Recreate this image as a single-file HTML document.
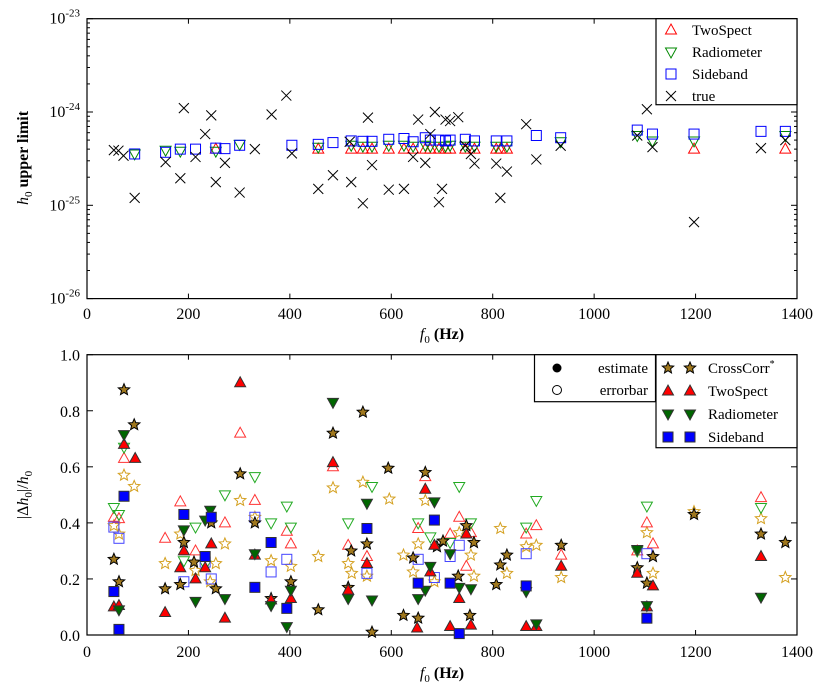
<!DOCTYPE html>
<html><head><meta charset="utf-8"><style>
html,body{margin:0;padding:0;background:#fff;}
svg{display:block;font-family:"Liberation Serif",serif;}
</style></head><body>
<svg id="chart" width="830" height="692" xmlns="http://www.w3.org/2000/svg"></svg>
<script>
// ---------- TOP PANEL DATA ----------
const trueFreq = [53,62,72,94,155,184,191,214,233,245,254,272,301,331,364,393,404,456,485,518,521,544,554,562,595,625,643,653,667,677,686,694,700,707,716,732,746,757,764,807,815,828,866,886,934,1085,1104,1115,1197,1329,1377];
const trueH0 = [3.9e-25,3.85e-25,3.4e-25,1.2e-25,2.9e-25,1.95e-25,1.1e-24,3.3e-25,5.8e-25,9.2e-25,1.77e-25,2.85e-25,1.37e-25,4.0e-25,9.4e-25,1.5e-24,3.6e-25,1.5e-25,2.1e-25,4.8e-25,1.77e-25,1.05e-25,8.7e-25,2.7e-25,1.47e-25,1.5e-25,3.3e-25,8.3e-25,2.85e-25,5.8e-25,1.0e-24,1.08e-25,1.5e-25,8.3e-25,8.0e-25,8.8e-25,4.35e-25,3.55e-25,2.8e-25,2.8e-25,1.2e-25,2.3e-25,7.4e-25,3.1e-25,4.35e-25,5.6e-25,1.07e-24,4.2e-25,6.6e-26,4.1e-25,5.0e-25];
const sbFreq = [94,155,184,214,254,272,301,404,456,485,521,544,562,595,625,643,667,677,694,707,716,746,764,807,828,886,934,1085,1115,1197,1329,1377];
const sbUL = [3.55e-25,3.7e-25,4.0e-25,4.0e-25,4.1e-25,4.05e-25,4.4e-25,4.4e-25,4.5e-25,4.7e-25,4.9e-25,4.85e-25,4.85e-25,5.1e-25,5.2e-25,4.8e-25,5.3e-25,5.0e-25,5.0e-25,4.9e-25,5.0e-25,5.1e-25,4.9e-25,4.9e-25,4.9e-25,5.6e-25,5.3e-25,6.4e-25,5.8e-25,5.8e-25,6.2e-25,6.2e-25];
const rmFreq = [94,155,184,254,301,456,521,544,562,595,625,643,667,677,694,707,716,746,764,807,828,934,1085,1115,1197,1377];
const rmUL = [3.55e-25,3.9e-25,3.8e-25,3.8e-25,4.5e-25,4.2e-25,4.4e-25,4.3e-25,4.3e-25,4.4e-25,4.4e-25,4.3e-25,4.4e-25,4.3e-25,4.3e-25,4.3e-25,4.4e-25,4.3e-25,4.3e-25,4.3e-25,4.3e-25,4.8e-25,5.6e-25,4.9e-25,4.9e-25,5.6e-25];
const tsFreq = [254,456,521,544,562,595,625,643,667,677,694,707,716,746,764,807,815,828,1197,1377];
const tsUL = [4.0e-25,4.0e-25,4.0e-25,4.0e-25,4.0e-25,4.0e-25,4.0e-25,4.0e-25,4.0e-25,4.0e-25,4.0e-25,4.0e-25,4.0e-25,4.0e-25,4.0e-25,4.0e-25,4.0e-25,4.0e-25,4.0e-25,4.0e-25];

// ---------- BOTTOM PANEL DATA ----------
const ccEstF = [53,63,73,93,154,184,191,211,245,254,302,331,363,402,456,485,515,521,544,552,562,594,624,643,653,667,690,702,732,748,755,763,807,815,828,935,1085,1104,1116,1197,1329,1377];
const ccEstV = [0.27,0.19,0.875,0.75,0.165,0.18,0.33,0.26,0.40,0.165,0.575,0.40,0.13,0.19,0.09,0.72,0.17,0.30,0.795,0.325,0.01,0.595,0.07,0.275,0.06,0.58,0.315,0.335,0.21,0.39,0.07,0.33,0.18,0.25,0.285,0.32,0.24,0.185,0.28,0.43,0.36,0.33];
const ccErrF = [53,63,73,93,154,184,214,243,254,272,302,331,363,402,456,485,515,522,544,552,596,624,643,653,667,685,734,757,763,815,828,866,886,935,1104,1116,1197,1329,1377];
const ccErrV = [0.39,0.36,0.57,0.53,0.255,0.36,0.23,0.19,0.255,0.325,0.48,0.42,0.265,0.245,0.28,0.525,0.255,0.22,0.545,0.21,0.485,0.285,0.225,0.325,0.48,0.19,0.365,0.285,0.21,0.38,0.22,0.315,0.32,0.205,0.365,0.22,0.44,0.415,0.205];
const tsEstF = [53,63,73,95,154,184,191,214,233,245,272,302,331,363,402,485,515,552,651,667,677,685,716,734,748,757,866,886,935,1085,1104,1116,1329];
const tsEstV = [0.10,0.105,0.68,0.63,0.08,0.24,0.30,0.20,0.24,0.325,0.06,0.90,0.285,0.125,0.13,0.615,0.16,0.255,0.025,0.52,0.225,0.32,0.03,0.13,0.36,0.035,0.03,0.03,0.245,0.22,0.10,0.175,0.28];
const tsErrF = [53,63,73,154,184,214,272,302,331,394,402,485,515,552,653,667,716,734,748,757,866,886,935,1085,1104,1116,1329];
const tsErrV = [0.42,0.415,0.63,0.345,0.475,0.30,0.40,0.72,0.48,0.37,0.325,0.60,0.32,0.28,0.38,0.565,0.36,0.42,0.245,0.365,0.36,0.39,0.285,0.30,0.40,0.325,0.49];
const rmEstF = [63,73,191,214,233,243,272,331,363,394,402,485,515,552,562,653,667,677,685,716,734,757,866,886,1085,1104,1329];
const rmEstV = [0.09,0.715,0.375,0.12,0.41,0.445,0.13,0.29,0.105,0.03,0.16,0.83,0.13,0.47,0.125,0.13,0.16,0.245,0.475,0.29,0.17,0.165,0.155,0.04,0.305,0.105,0.135];
const rmErrF = [53,63,73,191,214,233,272,331,363,394,402,515,562,653,677,716,734,757,866,886,1085,1104,1329];
const rmErrV = [0.455,0.43,0.67,0.265,0.385,0.25,0.50,0.565,0.40,0.46,0.385,0.40,0.53,0.40,0.35,0.33,0.53,0.40,0.385,0.48,0.30,0.46,0.455];
const sbEstF = [53,63,73,191,233,245,331,363,394,552,653,685,716,734,866,1104];
const sbEstV = [0.155,0.02,0.495,0.43,0.28,0.42,0.17,0.33,0.095,0.38,0.185,0.41,0.185,0.005,0.175,0.06];
const sbErrF = [53,63,191,233,245,331,363,394,552,653,685,716,734,866,1104];
const sbErrV = [0.385,0.345,0.19,0.26,0.20,0.42,0.225,0.27,0.22,0.27,0.205,0.28,0.32,0.29,0.29];

const xTicks = [0,200,400,600,800,1000,1200,1400];
const topYTicks = [-23,-24,-25,-26];
const botYTicks = [0.0,0.2,0.4,0.6,0.8,1.0];

const svg = document.getElementById('chart');
const NS = 'http://www.w3.org/2000/svg';
function mk(tag, attrs, parent){const e=document.createElementNS(NS,tag);for(const k in attrs)e.setAttribute(k,attrs[k]);(parent||svg).appendChild(e);return e;}

const AX = {l:87, r:797};
const TOP = {t:18.7, b:298.6};
const BOT = {t:354.7, b:635};
const xs = f => AX.l + (f/1400)*(AX.r-AX.l);
const ysTop = h => TOP.t + (-23 - Math.log10(h)) * (TOP.b-TOP.t)/3;
const ysBot = v => BOT.b - v*(BOT.b-BOT.t);

// markers
function tri(g,x,y,s,up,fill,stroke){const h=s*0.9;const p=up?`${x},${y-h*0.6} ${x-s/2},${y+h*0.4} ${x+s/2},${y+h*0.4}`:`${x},${y+h*0.6} ${x-s/2},${y-h*0.4} ${x+s/2},${y-h*0.4}`;return mk('polygon',{points:p,fill:fill,stroke:stroke,'stroke-width':1},g);}
function sq(g,x,y,s,fill,stroke){return mk('rect',{x:x-s/2,y:y-s/2,width:s,height:s,fill:fill,stroke:stroke,'stroke-width':1},g);}
function star(g,x,y,r,fill,stroke){let p=[];for(let i=0;i<10;i++){const a=-Math.PI/2+i*Math.PI/5;const rr=i%2?r*0.45:r;p.push((x+rr*Math.cos(a)).toFixed(1)+','+(y+rr*Math.sin(a)).toFixed(1));}return mk('polygon',{points:p.join(' '),fill:fill,stroke:stroke,'stroke-width':1},g);}
function cross(g,x,y,s){const h=s/2;mk('path',{d:`M${x-h},${y-h}L${x+h},${y+h}M${x-h},${y+h}L${x+h},${y-h}`,stroke:'#000','stroke-width':1,fill:'none'},g);}

function axesFrame(t,b,name){
  const r=mk('rect',{x:AX.l,y:t,width:AX.r-AX.l,height:b-t,fill:'none',stroke:'#000','stroke-width':1.2});
  
  
}
function xAxis(t,b,labelY,name){
  const g=mk('g',{});
  
  
  xTicks.forEach(v=>{const x=xs(v);
    mk('line',{x1:x,y1:b,x2:x,y2:b-5,stroke:'#000'},g);
    mk('line',{x1:x,y1:t,x2:x,y2:t+5,stroke:'#000'},g);
    const tx=mk('text',{x:x,y:labelY,'font-size':16,'text-anchor':'middle'},g);tx.textContent=v;});
}

// ===== TOP PANEL =====
const gTop=mk('g',{});


xAxis(TOP.t,TOP.b,319,'top-x-axis');
const gty=mk('g',{});


topYTicks.forEach(e=>{const y=ysTop(Math.pow(10,e));
  mk('line',{x1:AX.l,y1:y,x2:AX.l+6,y2:y,stroke:'#000'},gty);
  mk('line',{x1:AX.r,y1:y,x2:AX.r-6,y2:y,stroke:'#000'},gty);
  const t=mk('text',{x:80,y:y+5,'font-size':16,'text-anchor':'end'},gty);
  t.innerHTML=`10<tspan dy="-7" font-size="11">${e}</tspan>`;
  if(e>-26){for(let m=2;m<10;m++){const yy=ysTop(m*Math.pow(10,e-1));
    mk('line',{x1:AX.l,y1:yy,x2:AX.l+3,y2:yy,stroke:'#000'},gty);
    mk('line',{x1:AX.r,y1:yy,x2:AX.r-3,y2:yy,stroke:'#000'},gty);}}
});
axesFrame(TOP.t,TOP.b,'top-plot-frame');
const gts=mk('g',{},gTop);
tsFreq.forEach((f,i)=>tri(gts,xs(f),ysTop(tsUL[i]),11,true,'none','#f00'));
const grm=mk('g',{},gTop);
rmFreq.forEach((f,i)=>tri(grm,xs(f),ysTop(rmUL[i]),11,false,'none','#080'));
const gsb=mk('g',{},gTop);
sbFreq.forEach((f,i)=>sq(gsb,xs(f),ysTop(sbUL[i]),10,'none','#00f'));
const gtr=mk('g',{},gTop);
trueFreq.forEach((f,i)=>cross(gtr,xs(f),ysTop(trueH0[i]),10));

// top legend
const lg=mk('g',{});


mk('rect',{x:656,y:18.7,width:141,height:86,fill:'#fff',stroke:'#000','stroke-width':1.2},lg);
const ly=[30,52,74,96];
tri(lg,671,ly[0],11,true,'none','#f00');tri(lg,671,ly[1],11,false,'none','#080');sq(lg,671,ly[2],10,'none','#00f');cross(lg,671,ly[3],10);
['TwoSpect','Radiometer','Sideband','true'].forEach((s,i)=>{const t=mk('text',{x:692,y:ly[i]+5,'font-size':15},lg);t.textContent=s;});

// top labels
const tyl=mk('text',{x:0,y:0,'font-size':16,transform:'translate(28,158) rotate(-90)','text-anchor':'middle'});

tyl.innerHTML='<tspan font-style="italic">h</tspan><tspan font-size="11" dy="4">0</tspan><tspan dy="-4" font-weight="bold"> upper limit</tspan>';
const txl=mk('text',{x:442,y:339,'font-size':16,'text-anchor':'middle'});

txl.innerHTML='<tspan font-style="italic">f</tspan><tspan font-size="11" dy="4">0</tspan><tspan dy="-4" font-weight="bold"> (Hz)</tspan>';

// ===== BOTTOM PANEL =====
xAxis(BOT.t,BOT.b,657,'bottom-x-axis');
const gby=mk('g',{});


botYTicks.forEach(v=>{const y=ysBot(v);
  mk('line',{x1:AX.l,y1:y,x2:AX.l+6,y2:y,stroke:'#000'},gby);
  mk('line',{x1:AX.r,y1:y,x2:AX.r-6,y2:y,stroke:'#000'},gby);
  const t=mk('text',{x:80,y:y+6,'font-size':16,'text-anchor':'end'},gby);t.textContent=v.toFixed(1);});
axesFrame(BOT.t,BOT.b,'bottom-plot-frame');
const gold='#b8860b', gfill='#a0781e';
function series(name,F,V,draw){const g=mk('g',{});F.forEach((f,i)=>draw(g,xs(f),ysBot(V[i])));}
series('crosscorr-errorbar',ccErrF,ccErrV,(g,x,y)=>star(g,x,y,6,'none','#d4a020'));
series('twospect-errorbar',tsErrF,tsErrV,(g,x,y)=>tri(g,x,y,11,true,'none','#f33'));
series('radiometer-errorbar',rmErrF,rmErrV,(g,x,y)=>tri(g,x,y,11,false,'none','#2a2'));
series('sideband-errorbar',sbErrF,sbErrV,(g,x,y)=>sq(g,x,y,10,'none','#44f'));
series('crosscorr-estimate',ccEstF,ccEstV,(g,x,y)=>star(g,x,y,6,gfill,'#000'));
series('twospect-estimate',tsEstF,tsEstV,(g,x,y)=>tri(g,x,y,11,true,'#f00','#333'));
series('radiometer-estimate',rmEstF,rmEstV,(g,x,y)=>tri(g,x,y,11,false,'#060','#333'));
series('sideband-estimate',sbEstF,sbEstV,(g,x,y)=>sq(g,x,y,10,'#00f','#333'));

// bottom legends
const l1=mk('g',{});


mk('rect',{x:534.5,y:354.7,width:121,height:47,fill:'#fff',stroke:'#000','stroke-width':1.2},l1);
mk('circle',{cx:557,cy:368,r:4.5,fill:'#000'},l1);
mk('circle',{cx:557,cy:390,r:4.5,fill:'none',stroke:'#000'},l1);
let t1=mk('text',{x:648,y:373,'font-size':15,'text-anchor':'end'},l1);t1.textContent='estimate';
let t2=mk('text',{x:648,y:395,'font-size':15,'text-anchor':'end'},l1);t2.textContent='errorbar';
const l2=mk('g',{});


mk('rect',{x:656,y:354.7,width:141,height:93,fill:'#fff',stroke:'#000','stroke-width':1.2},l2);
const ry=[368,391,414,437];
star(l2,668,ry[0],6,gfill,'#000');star(l2,690,ry[0],6,gfill,'#000');
tri(l2,668,ry[1],11,true,'#f00','#333');tri(l2,690,ry[1],11,true,'#f00','#333');
tri(l2,668,ry[2],11,false,'#060','#333');tri(l2,690,ry[2],11,false,'#060','#333');
sq(l2,668,ry[3],10,'#00f','#333');sq(l2,690,ry[3],10,'#00f','#333');
const names=['CrossCorr','TwoSpect','Radiometer','Sideband'];
names.forEach((s,i)=>{const t=mk('text',{x:708,y:ry[i]+5,'font-size':15},l2);t.textContent=s;if(i===0){const sp=mk('tspan',{dy:-6,'font-size':10},t);sp.textContent='*';}});

const byl=mk('text',{x:0,y:0,'font-size':16,transform:'translate(28,495) rotate(-90)','text-anchor':'middle'});

byl.innerHTML='|Δ<tspan font-style="italic">h</tspan><tspan font-size="11" dy="4">0</tspan><tspan dy="-4">|/</tspan><tspan font-style="italic">h</tspan><tspan font-size="11" dy="4">0</tspan>';
const bxl=mk('text',{x:442,y:678,'font-size':16,'text-anchor':'middle'});

bxl.innerHTML='<tspan font-style="italic">f</tspan><tspan font-size="11" dy="4">0</tspan><tspan dy="-4" font-weight="bold"> (Hz)</tspan>';
</script>
</body></html>
